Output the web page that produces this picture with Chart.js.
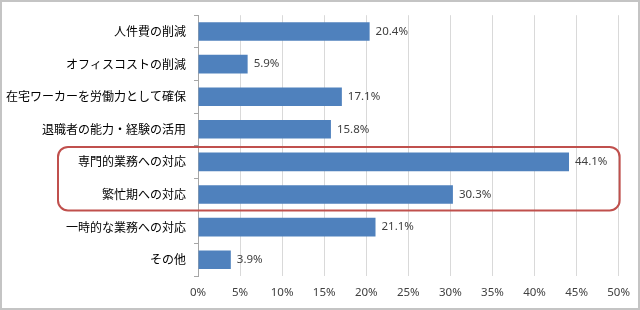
<!DOCTYPE html>
<html>
<head>
<meta charset="utf-8">
<script src="https://cdn.jsdelivr.net/npm/chart.js@4/dist/chart.umd.min.js"></script>
<style>
  html, body { margin: 0; padding: 0; background: #fff; }
  #wrap { position: relative; width: 640px; height: 310px; }
</style>
</head>
<body>
<div id="wrap"><canvas id="myChart1" width="640" height="310"></canvas></div>
<script>
// categories and values (percent)
var categories = [
    "人件費の削減",
    "オフィスコストの削減",
    "在宅ワーカーを労働力として確保",
    "退職者の能力・経験の活用",
    "専門的業務への対応",
    "繁忙期への対応",
    "一時的な業務への対応",
    "その他"
];
var values = [20.4, 5.9, 17.1, 15.8, 44.1, 30.3, 21.1, 3.9];
var highlighted = [4, 5]; // rows inside the red box
var xMax = 50;
var xStep = 5;

// value labels at the end of each bar
var barLabels = {
    id: 'barLabels',
    afterDatasetsDraw: function (chart) {
        var ctx = chart.ctx;
        var meta = chart.getDatasetMeta(0);
        ctx.save();
        ctx.font = '11.5px "Noto Sans", sans-serif';
        ctx.fillStyle = '#404040';
        ctx.textAlign = 'left';
        ctx.textBaseline = 'middle';
        meta.data.forEach(function (bar, i) {
            ctx.fillText(values[i].toFixed(1) + '%', bar.x + 6, bar.y);
        });
        ctx.restore();
    }
};

// red rounded box round the highlighted rows, plus outer frame
var extras = {
    id: 'extras',
    afterDraw: function (chart) {
        var ctx = chart.ctx;
        var y = chart.scales.y;
        var top = y.getPixelForValue(highlighted[0]) - 15;
        var bottom = y.getPixelForValue(highlighted[highlighted.length - 1]) + 16;
        var left = 58, right = chart.chartArea.right + 1;
        ctx.save();
        ctx.strokeStyle = '#c0504d';
        ctx.lineWidth = 2;
        ctx.beginPath();
        ctx.roundRect(left, top, right - left, bottom - top, 10);
        ctx.stroke();
        // frame
        ctx.strokeStyle = '#c4c4c4';
        ctx.lineWidth = 2;
        ctx.strokeRect(1, 1, chart.width - 2, chart.height - 2);
        ctx.restore();
    }
};

var ctx = document.getElementById('myChart1').getContext('2d');
var chart = new Chart(ctx, {
    type: 'bar',
    data: {
        labels: categories,
        datasets: [{
            data: values,
            backgroundColor: '#4f81bd',
            borderWidth: 0,
            barPercentage: 0.57,
            categoryPercentage: 1.0
        }]
    },
    options: {
        indexAxis: 'y',
        responsive: false,
        animation: false,
        layout: { padding: { left: 0, right: 19, top: 10, bottom: 0 } },
        plugins: {
            legend: { display: false },
            tooltip: { enabled: false }
        },
        scales: {
            x: {
                min: 0,
                max: xMax,
                ticks: {
                    stepSize: xStep,
                    padding: 10,
                    color: '#404040',
                    font: { family: '"Noto Sans", sans-serif', size: 11.5 },
                    callback: function (v) { return v + '%'; }
                },
                grid: { color: '#d9d9d9', lineWidth: 1, drawTicks: false },
                border: { display: false },
                afterFit: function (scale) { scale.height = 34; }
            },
            y: {
                ticks: {
                    padding: 8,
                    color: '#000',
                    font: { family: '"Noto Sans CJK JP", sans-serif', size: 12 }
                },
                grid: {
                    offset: true,
                    drawOnChartArea: false,
                    drawTicks: true,
                    tickLength: 4,
                    color: '#a6a6a6'
                },
                border: { display: true, color: '#a6a6a6' },
                afterFit: function (scale) { scale.width = 198; }
            }
        }
    },
    plugins: [barLabels, extras]
});
</script>
</body>
</html>
